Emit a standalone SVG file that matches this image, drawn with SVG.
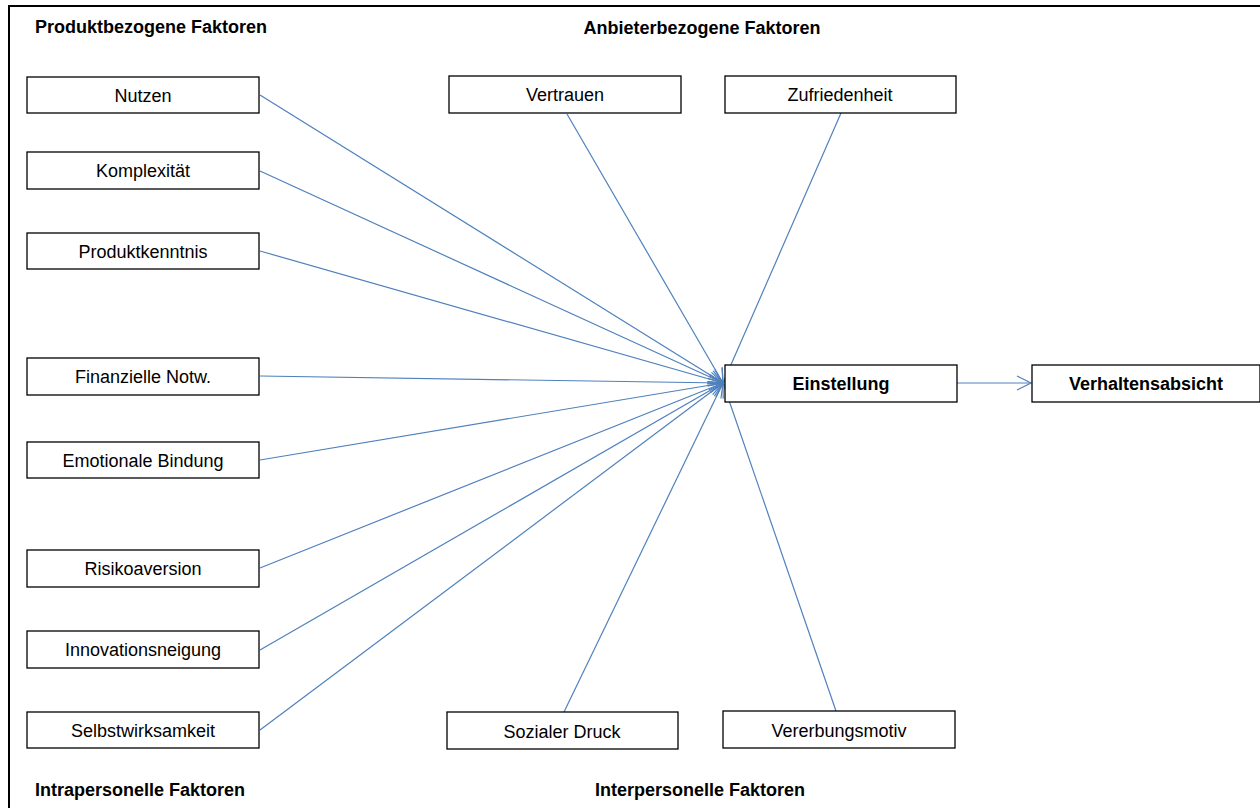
<svg xmlns="http://www.w3.org/2000/svg" width="1260" height="808" viewBox="0 0 1260 808">
<style>
.box{fill:#fff;stroke:#000;stroke-width:1.3}
.t{font-family:"Liberation Sans",Arial,sans-serif;font-size:18px;fill:#000;text-anchor:middle}
.b{font-weight:bold}
.h{font-family:"Liberation Sans",Arial,sans-serif;font-size:18px;font-weight:bold;fill:#000}
.c{stroke:#4f81bd;stroke-width:1.2;fill:none;marker-end:url(#ah)}
</style>
<defs>
<marker id="ah" markerUnits="userSpaceOnUse" markerWidth="20" markerHeight="20" refX="15" refY="8" orient="auto">
<path d="M1,1 L15,8 L1,15" fill="none" stroke="#4f81bd" stroke-width="1.2"/>
</marker>
</defs>
<rect width="1260" height="808" fill="#fff"/>
<g id="frame" stroke="#000" stroke-width="2" fill="none">
<line x1="9" y1="6" x2="1260" y2="6"/>
<line x1="9" y1="5" x2="9" y2="808"/>
</g>
<g id="headings">
<text class="h" x="35" y="33">Produktbezogene Faktoren</text>
<text class="h" x="702" y="34" text-anchor="middle">Anbieterbezogene Faktoren</text>
<text class="h" x="35" y="796">Intrapersonelle Faktoren</text>
<text class="h" x="700" y="796" text-anchor="middle">Interpersonelle Faktoren</text>
</g>
<g id="connectors">
<line class="c" x1="260" y1="95" x2="723" y2="383"/>
<line class="c" x1="260" y1="171" x2="723" y2="383"/>
<line class="c" x1="260" y1="251" x2="723" y2="383"/>
<line class="c" x1="260" y1="376" x2="723" y2="383"/>
<line class="c" x1="260" y1="460" x2="723" y2="383"/>
<line class="c" x1="260" y1="568" x2="723" y2="383"/>
<line class="c" x1="260" y1="650" x2="723" y2="383"/>
<line class="c" x1="260" y1="730" x2="723" y2="383"/>
<line class="c" x1="567" y1="114" x2="723" y2="383"/>
<line class="c" x1="841" y1="113" x2="723" y2="383"/>
<line class="c" x1="564" y1="712" x2="723" y2="383"/>
<line class="c" x1="836" y1="711" x2="723" y2="383"/>
<line class="c" x1="957" y1="383" x2="1031" y2="383"/>
</g>
<g id="n-nutzen"><rect class="box" x="27" y="77" width="232" height="36"/><text class="t" x="143" y="102">Nutzen</text></g>
<g id="n-komplexitaet"><rect class="box" x="27" y="152" width="232" height="37"/><text class="t" x="143" y="177">Komplexität</text></g>
<g id="n-produktkenntnis"><rect class="box" x="27" y="233" width="232" height="36"/><text class="t" x="143" y="258">Produktkenntnis</text></g>
<g id="n-finanzielle"><rect class="box" x="27" y="358" width="232" height="37"/><text class="t" x="143" y="383">Finanzielle Notw.</text></g>
<g id="n-emotionale"><rect class="box" x="27" y="442" width="232" height="36"/><text class="t" x="143" y="467">Emotionale Bindung</text></g>
<g id="n-risiko"><rect class="box" x="27" y="550" width="232" height="37"/><text class="t" x="143" y="575">Risikoaversion</text></g>
<g id="n-innovation"><rect class="box" x="27" y="631" width="232" height="37"/><text class="t" x="143" y="656">Innovationsneigung</text></g>
<g id="n-selbst"><rect class="box" x="27" y="712" width="232" height="36"/><text class="t" x="143" y="737">Selbstwirksamkeit</text></g>
<g id="n-vertrauen"><rect class="box" x="449" y="76" width="232" height="37"/><text class="t" x="565" y="101">Vertrauen</text></g>
<g id="n-zufriedenheit"><rect class="box" x="725" y="76" width="231" height="37"/><text class="t" x="840" y="101">Zufriedenheit</text></g>
<g id="n-sozial"><rect class="box" x="447" y="712" width="231" height="37"/><text class="t" x="562" y="738">Sozialer Druck</text></g>
<g id="n-vererbung"><rect class="box" x="723" y="711" width="232" height="37"/><text class="t" x="839" y="737">Vererbungsmotiv</text></g>
<g id="n-einstellung"><rect class="box" x="725" y="365" width="232" height="37"/><text class="t b" x="841" y="390">Einstellung</text></g>
<g id="n-verhalten"><rect class="box" x="1032" y="365" width="228" height="37"/><text class="t b" x="1146" y="390">Verhaltensabsicht</text></g>
</svg>
